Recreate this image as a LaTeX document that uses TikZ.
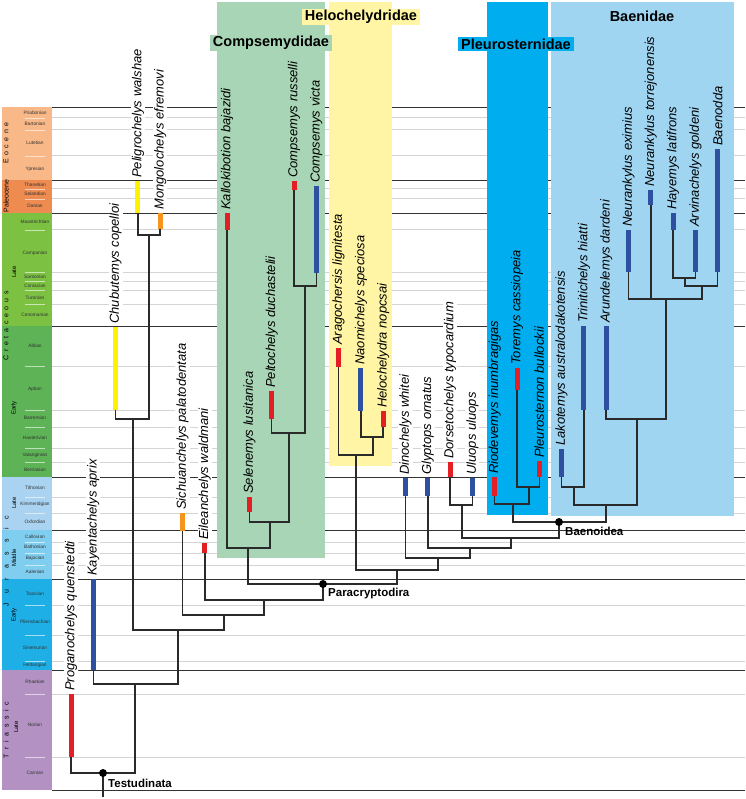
\documentclass[tikz,border=0pt]{standalone}
\usepackage{fontspec}
\setmainfont{Liberation Sans}

\definecolor{barred}{HTML}{E31E24}
\definecolor{barblue}{HTML}{2D50A0}
\definecolor{baryellow}{HTML}{FFF200}
\definecolor{barorange}{HTML}{F7941D}
\definecolor{compgreen}{HTML}{A8D5B5}
\definecolor{heloyellow}{HTML}{FFF5A5}
\definecolor{pleublue}{HTML}{00AEEF}
\definecolor{baenblue}{HTML}{A0D5F2}
\definecolor{eocene}{HTML}{F8B888}
\definecolor{paleocene}{HTML}{EE8B50}
\definecolor{latecret}{HTML}{7DC143}
\definecolor{earlycret}{HTML}{5EB356}
\definecolor{latejur}{HTML}{A9D3F0}
\definecolor{midjur}{HTML}{7FCDEF}
\definecolor{earlyjur}{HTML}{1DAFE5}
\definecolor{latetri}{HTML}{B392C3}
\definecolor{treeline}{HTML}{2A2A2A}

\tikzset{
    major/.style={draw=black!80, line width=0.9pt},
    minor/.style={draw=black!17, line width=1pt},
    stagetick/.style={draw=white, opacity=0.6, line width=0.8pt},
    stage/.style={font=\fontsize{4.8}{5}\selectfont, text=black!80, inner sep=0pt},
    epoch/.style={rotate=90, font=\fontsize{6}{6}\selectfont, inner sep=0pt},
    period/.style={rotate=90, font=\fontsize{7}{7}\selectfont, inner sep=0pt},
    group/.style={font=\fontsize{14.5}{15}\selectfont\bfseries, inner xsep=3pt, inner ysep=1.5pt},
    taxon/.style={rotate=90, anchor=west, inner sep=1pt, font=\fontsize{13}{13}\selectfont\itshape},
    taxonbg/.style={taxon, fill=white},
    bar/.style={line width=5pt, line cap=butt},
    branch/.style={draw=treeline, line width=1.5pt},
    dot/.style={circle, fill=black, inner sep=0pt, minimum size=8pt},
    cladename/.style={anchor=west, font=\fontsize{11.5}{12}\selectfont\bfseries, inner sep=1pt}
}

\begin{document}
\begin{tikzpicture}[x=1pt, y=-1pt]
    \useasboundingbox (0,0) rectangle (745,799);

    % time scale column
    \foreach \tp/\bt/\cl in {107/180/eocene, 180/213/paleocene, 213/326/latecret,
        326/477/earlycret, 477/530/latejur, 530/579/midjur, 579/670/earlyjur, 670/790/latetri}
        \fill[\cl] (2,\tp) rectangle (52,\bt);

    \foreach \y in {118,130,156,189,199,230,272,281,290,304,366,410,427,448,462,
        497,513,542,553,565,605,635,661,694,757} {
        \draw[minor] (52,\y) -- (745,\y);
        \draw[stagetick] (25,\y) -- (45,\y);
    }
    \foreach \y in {107,180,213,326,477,530,579,670,790}
        \draw[major] (52,\y) -- (745,\y);

    \foreach \y/\nm in {113/Priabonian, 124/Bartonian, 143/Lutetian, 169/Ypresian,
        185/Thanetian, 194/Selandian, 206/Danian, 222/Maastrichtian, 253/Campanian,
        277/Santonian, 286/Coniacian, 298/Turonian, 315/Cenomanian, 346/Albian,
        389/Aptian, 418/Barremian, 438/Hauterivian, 455/Valanginian, 470/Berriasian,
        488/Tithonian, 504/Kimmeridgian, 522/Oxfordian, 537/Callovian, 547/Bathonian,
        558/Bajocian, 572/Aalenian, 594/Toarcian, 622/Pliensbachian, 648/Sinemurian,
        665/Hettangian, 682/Rhaetian, 725/Norian, 773/Carnian}
        \node[stage] (st-\nm) at (35,\y) {\nm};

    \node[period] (eoc) at (6,143) {\spaceskip=3.5pt\relax E o c e n e};
    \node[period] (pal) at (6,196) {Paleocene};
    \node[period] (cre) at (6,326) {\spaceskip=3.7pt\relax C r e t a c e o u s};
    \node[period] (jur) at (6,561) {\spaceskip=9.3pt\relax J u r a s s i c};
    \node[period] (tri) at (6,730) {\spaceskip=4.6pt\relax T r i a s s i c};

    \node[epoch] (ep-lk) at (14,272) {Late};
    \node[epoch] (ep-ek) at (14,408) {Early};
    \node[epoch] (ep-lj) at (14,503) {Late};
    \node[epoch] (ep-mj) at (14,558) {Middle};
    \node[epoch] (ep-ej) at (14,615) {Early};
    \node[epoch] (ep-lt) at (16,727) {Late};

    % clade boxes
    \fill[compgreen] (217,2) rectangle (325,558);
    \fill[heloyellow] (329,2) rectangle (392,466);
    \fill[pleublue] (487,2) rectangle (548,515);
    \fill[baenblue] (551,2) rectangle (734,516);

    \node[group, fill=heloyellow] (helo) at (361,17) {Helochelydridae};
    \node[group, fill=compgreen] (comp) at (271,43) {Compsemydidae};
    \node[group, fill=pleublue] (pleu) at (516,44) {Pleurosternidae};
    \node[group] (baen) at (642,16) {Baenidae};

    % taxa: index/name/range top/range bottom/colour/label style/label
    \foreach \i/\nm/\tp/\bt/\cl/\st/\txt in {
        0/prog/694/757/barred/taxonbg/Proganochelys quenstedti,
        1/kayen/579/670/barblue/taxonbg/Kayentachelys aprix,
        2/chubu/327/410/baryellow/taxonbg/Chubutemys copelloi,
        3/peli/181/213/baryellow/taxonbg/Peligrochelys walshae,
        4/mongo/213/229/barorange/taxonbg/Mongolochelys efremovi,
        5/sichu/513/531/barorange/taxonbg/Sichuanchelys palatodentata,
        6/eilean/543/553/barred/taxonbg/Eileanchelys waldmani,
        7/kallo/213/230/barred/taxon/Kallokibotion bajazidi,
        8/selen/497/512/barred/taxon/Selenemys lusitanica,
        9/pelto/391/419/barred/taxon/Peltochelys duchastelii,
        10/crus/181/190/barred/taxon/Compsemys russelli,
        11/cvic/186/273/barblue/taxon/Compsemys victa,
        12/arago/348/367/barred/taxon/Aragochersis lignitesta,
        13/naomi/368/411/barblue/taxon/Naomichelys speciosa,
        14/heloc/411/427/barred/taxon/Helochelydra nopcsai,
        15/dino/478/496/barblue/taxonbg/Dinochelys whitei,
        16/glypt/478/496/barblue/taxonbg/Glyptops ornatus,
        17/dorset/462/477/barred/taxonbg/Dorsetochelys typocardium,
        18/uluops/478/496/barblue/taxonbg/Uluops uluops,
        19/riode/477/496/barred/taxon/Riodevemys inumbragigas,
        20/torem/368/390/barred/taxon/Toremys cassiopeia,
        21/pleur/461/477/barred/taxon/Pleurosternon bullockii,
        22/lakot/449/477/barblue/taxon/Lakotemys australodakotensis,
        23/trini/326/410/barblue/taxon/Trinitichelys hiatti,
        24/arund/326/410/barblue/taxon/Arundelemys dardeni,
        25/neuex/230/272/barblue/taxon/Neurankylus eximius,
        26/neuto/190/205/barblue/taxon/Neurankylus torrejonensis,
        27/hayem/213/230/barblue/taxon/Hayemys latifrons,
        28/arvin/230/272/barblue/taxon/Arvinachelys goldeni,
        29/baeno/149/272/barblue/taxon/Baenodda
    } {
        \coordinate (\nm) at ({71+22.3*\i},\bt);
        \draw[bar, \cl] ({71+22.3*\i},\tp) -- (\nm);
        \node[\st] (\nm-l) at ({71+22.3*\i},\tp-2) {\txt};
    }

    % internal nodes
    \coordinate (pm) at (149,235);
    \coordinate (cpm) at (133,419);
    \coordinate (cr) at (305,286);
    \coordinate (pc) at (289,433);
    \coordinate (sp) at (270,522);
    \coordinate (cmp) at (248,548);
    \coordinate (nh) at (373,437);
    \coordinate (hel) at (356,455);
    \coordinate (du) at (462,505);
    \coordinate (tp) at (529,487);
    \coordinate (plr) at (513,504);
    \coordinate (ha) at (685,278);
    \coordinate (hab) at (702,286);
    \coordinate (neu) at (666,299);
    \coordinate (an) at (637,419);
    \coordinate (lt) at (574,487);
    \coordinate (bae) at (606,505);
    \coordinate (baenoid) at (559,522);
    \coordinate (bu) at (511,538);
    \coordinate (gb) at (470,548);
    \coordinate (db) at (438,558);
    \coordinate (hd) at (397,570);
    \coordinate (para) at (323,584);
    \coordinate (ep) at (264,600);
    \coordinate (se) at (224,615);
    \coordinate (cs) at (178,630);
    \coordinate (kc) at (135,684);
    \coordinate (testu) at (103,773);
    \coordinate (root) at (103,797);

    % branches
    \draw[branch] (peli) |- (pm) -| (mongo);
    \draw[branch] (chubu) |- (cpm) -| (pm);
    \draw[branch] (crus) |- (cr) -| (cvic);
    \draw[branch] (pelto) |- (pc) -| (cr);
    \draw[branch] (selen) |- (sp) -| (pc);
    \draw[branch] (kallo) |- (cmp) -| (sp);
    \draw[branch] (naomi) |- (nh) -| (heloc);
    \draw[branch] (arago) |- (hel) -| (nh);
    \draw[branch] (dorset) |- (du) -| (uluops);
    \draw[branch] (torem) |- (tp) -| (pleur);
    \draw[branch] (riode) |- (plr) -| (tp);
    \draw[branch] (hayem) |- (ha) -| (arvin);
    \draw[branch] (ha) |- (hab) -| (baeno);
    \draw[branch] (neuex) |- (neu) -| (hab);
    \draw[branch] (neuto) -- (neuto |- neu);
    \draw[branch] (arund) |- (an) -| (neu);
    \draw[branch] (lakot) |- (lt) -| (trini);
    \draw[branch] (lt) |- (bae) -| (an);
    \draw[branch] (plr) |- (baenoid) -| (bae);
    \draw[branch] (du) |- (bu) -| (baenoid);
    \draw[branch] (glypt) |- (gb) -| (bu);
    \draw[branch] (dino) |- (db) -| (gb);
    \draw[branch] (hel) |- (hd) -| (db);
    \draw[branch] (cmp) |- (para) -| (hd);
    \draw[branch] (eilean) |- (ep) -| (para);
    \draw[branch] (sichu) |- (se) -| (ep);
    \draw[branch] (cpm) |- (cs) -| (se);
    \draw[branch] (kayen) |- (kc) -| (cs);
    \draw[branch] (prog) |- (testu) -| (kc);
    \draw[branch] (testu) -- (root);

    % named clades
    \node[dot] (testu-d) at (testu) {};
    \node[dot] (para-d) at (para) {};
    \node[dot] (baenoid-d) at (baenoid) {};
    \node[cladename] (testu-n) at (107,783) {Testudinata};
    \node[cladename] (para-n) at (327,594) {Paracryptodira};
    \node[cladename] (baenoid-n) at (564,531) {Baenoidea};
\end{tikzpicture}
\end{document}
